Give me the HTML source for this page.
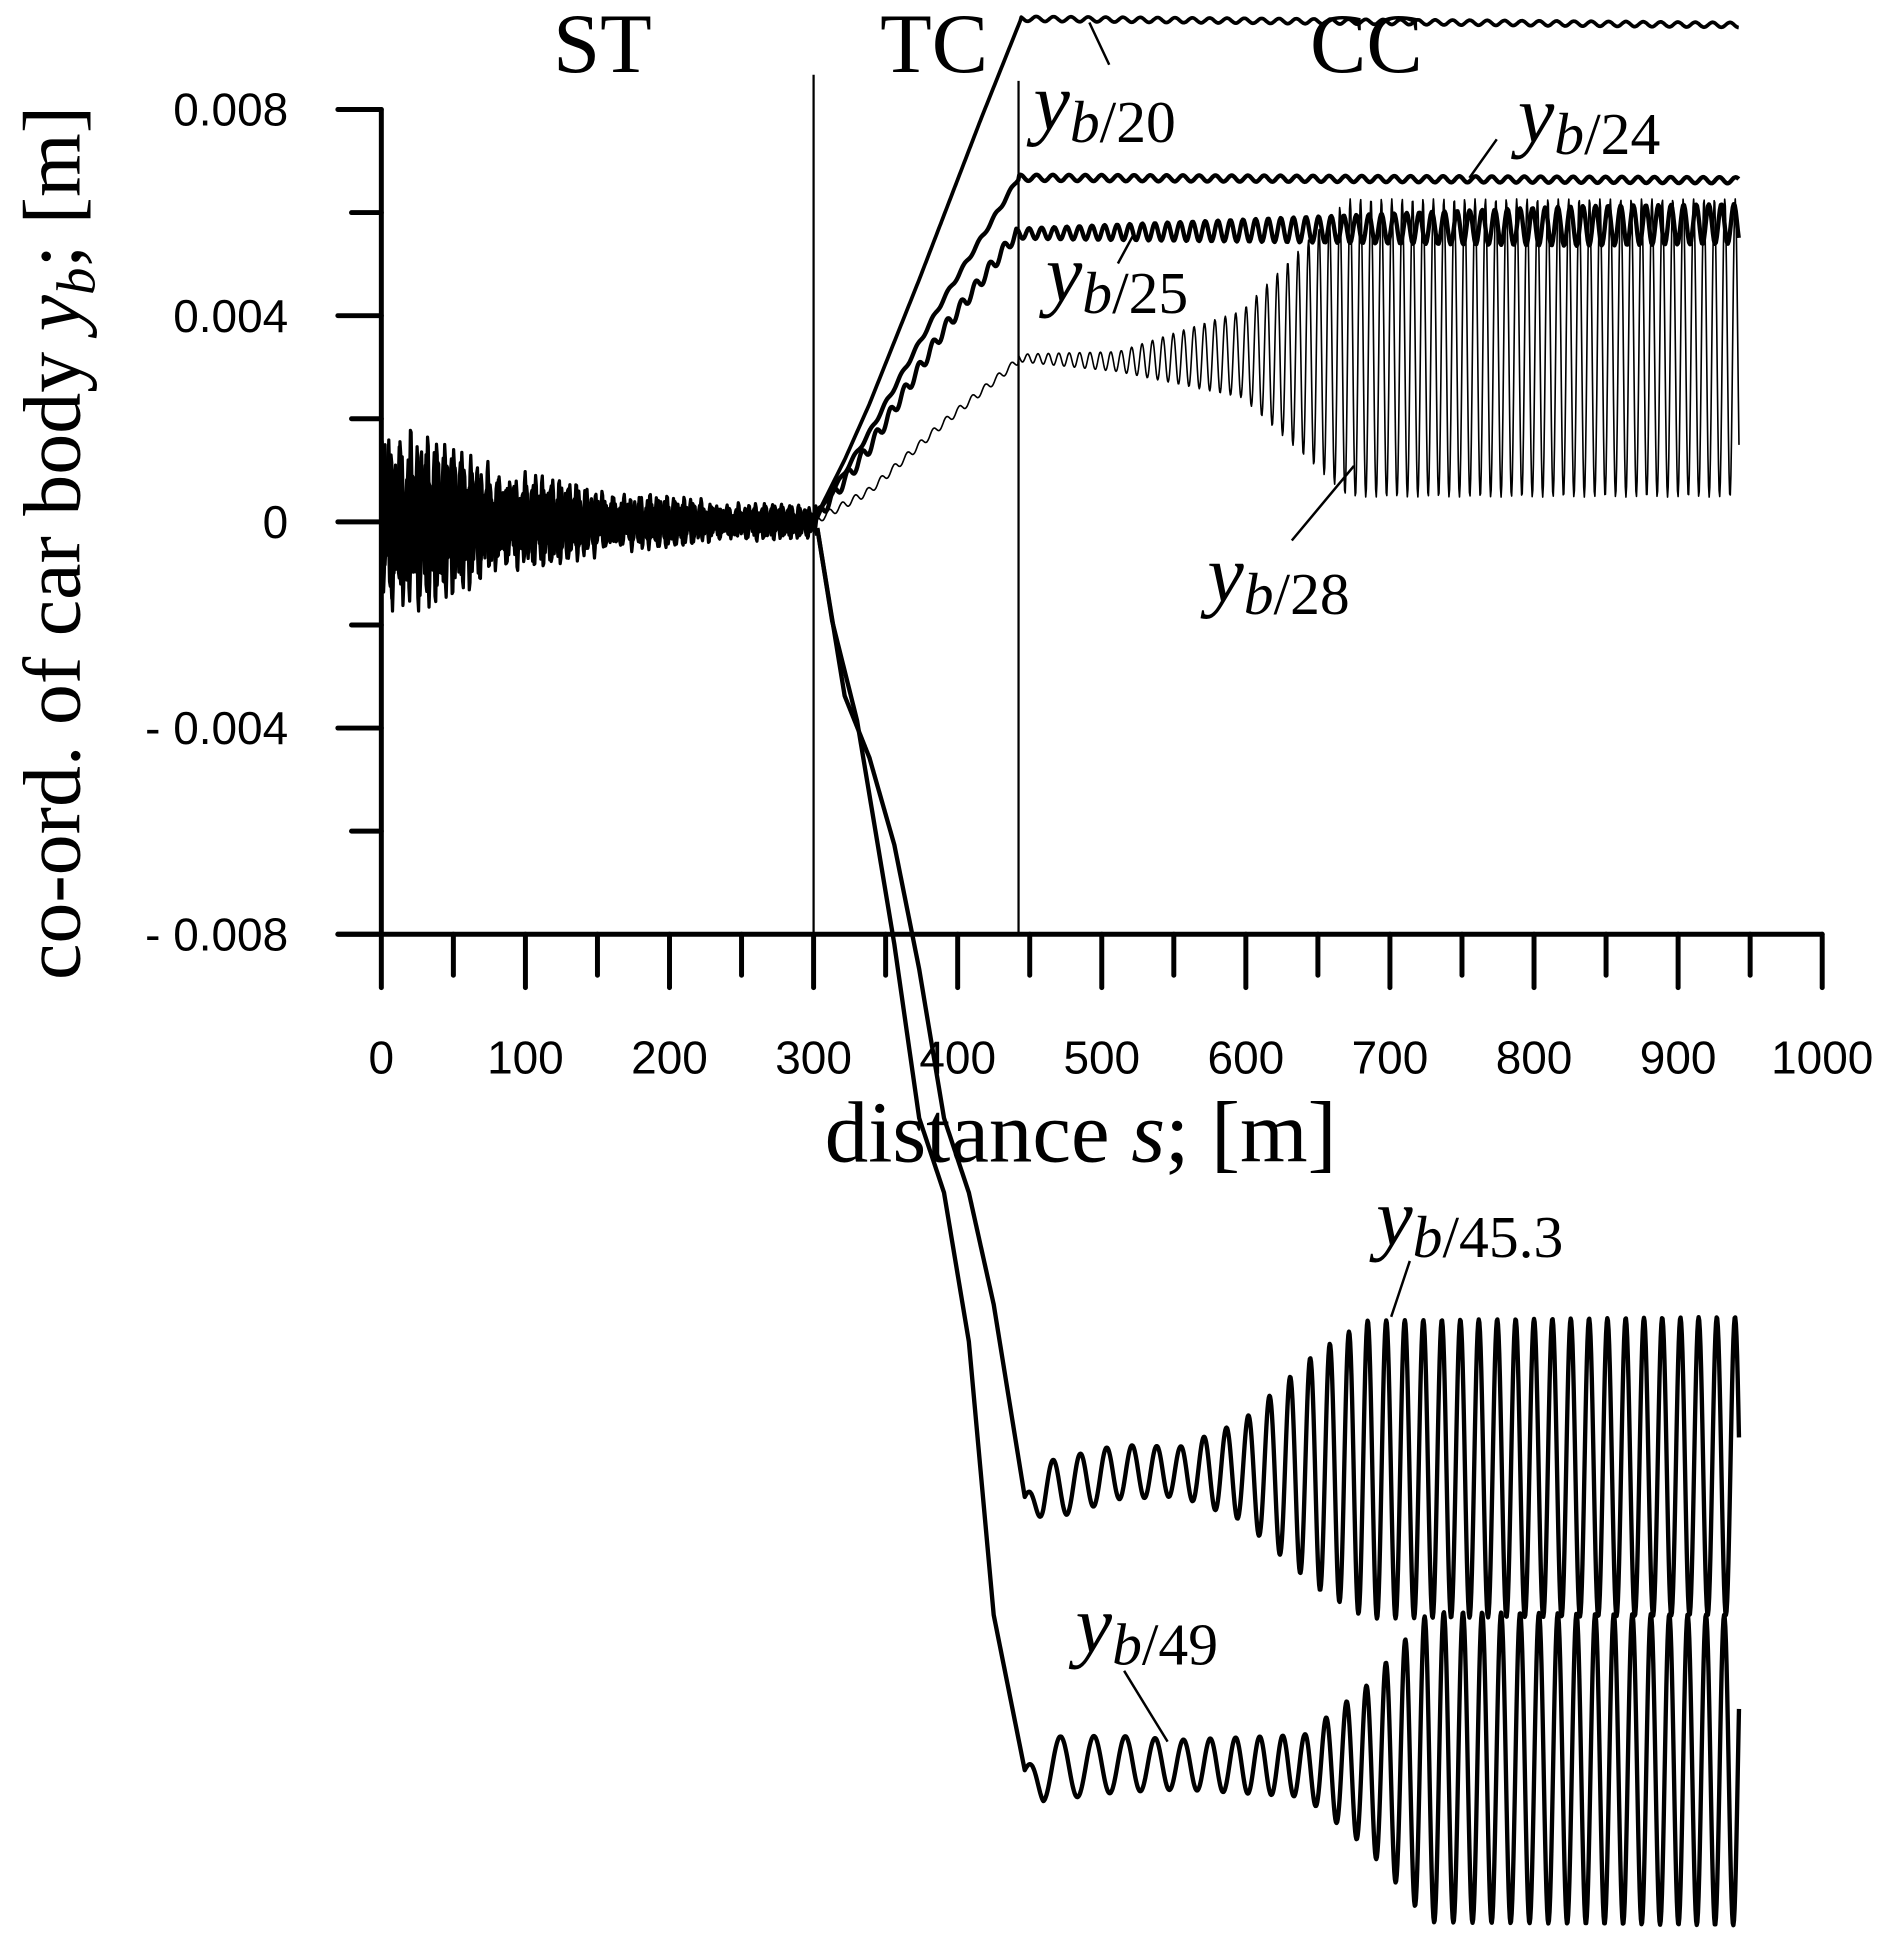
<!DOCTYPE html>
<html><head><meta charset="utf-8"><style>
html,body{margin:0;padding:0;background:#fff}
svg{display:block}
.t{font-family:"Liberation Sans",Arial,sans-serif;font-size:37px;fill:#000}
.s{font-family:"Liberation Serif","Times New Roman",serif;fill:#000}
</style></head><body>
<svg id="c" width="1893" height="1948" viewBox="0 0 1524 1568" xmlns="http://www.w3.org/2000/svg">
<g stroke="#000" stroke-width="4" stroke-linecap="round" fill="none" id="axes">
<line x1="307" y1="88" x2="307" y2="752"/>
<line x1="272" y1="752" x2="1467" y2="752"/>
</g>
<g stroke="#000" stroke-width="1.8" fill="none">
<line x1="655" y1="60" x2="655" y2="752"/>
<line x1="820" y1="65" x2="820" y2="752"/>
</g>
<g id="ticks" stroke="#000" stroke-width="4" stroke-linecap="round"></g>
<g class="t" text-anchor="end">
<text x="232" y="101">0.008</text>
<text x="232" y="267">0.004</text>
<text x="232" y="433">0</text>
<text x="232" y="599">- 0.004</text>
<text x="232" y="765">- 0.008</text>
</g>
<g class="t" text-anchor="middle" id="xl">
<text x="307" y="864">0</text><text x="423" y="864">100</text><text x="539" y="864">200</text><text x="655" y="864">300</text><text x="771" y="864">400</text><text x="887" y="864">500</text><text x="1003" y="864">600</text><text x="1119" y="864">700</text><text x="1235" y="864">800</text><text x="1351" y="864">900</text><text x="1467" y="864">1000</text>
</g>
<text class="s" font-size="70" x="870" y="935" text-anchor="middle">distance <tspan font-style="italic">s</tspan>; [m]</text>
<text class="s" font-size="66" transform="translate(64,437) rotate(-90)" text-anchor="middle">co-ord. of car body <tspan font-style="italic">y</tspan><tspan font-style="italic" font-size="44" dy="12">b</tspan><tspan dy="-12">; [m]</tspan></text>
<g class="s" font-size="68">
<text x="485" y="58" text-anchor="middle">ST</text>
<text x="752" y="58" text-anchor="middle">TC</text>
<text x="1100" y="58" text-anchor="middle">CC</text>
</g>
<g id="data" fill="none" stroke="#000" stroke-linejoin="round"></g>
<g class="s">
<text x="832" y="104" font-size="66"><tspan font-style="italic">y</tspan><tspan font-size="48" dy="10"><tspan font-style="italic">b</tspan>/20</tspan></text>
<text x="1222" y="114" font-size="66"><tspan font-style="italic">y</tspan><tspan font-size="48" dy="10"><tspan font-style="italic">b</tspan>/24</tspan></text>
<text x="842" y="242" font-size="66"><tspan font-style="italic">y</tspan><tspan font-size="48" dy="10"><tspan font-style="italic">b</tspan>/25</tspan></text>
<text x="972" y="484" font-size="66"><tspan font-style="italic">y</tspan><tspan font-size="48" dy="10"><tspan font-style="italic">b</tspan>/28</tspan></text>
<text x="1108" y="1002" font-size="66"><tspan font-style="italic">y</tspan><tspan font-size="48" dy="10"><tspan font-style="italic">b</tspan>/45.3</tspan></text>
<text x="866" y="1330" font-size="66"><tspan font-style="italic">y</tspan><tspan font-size="48" dy="10"><tspan font-style="italic">b</tspan>/49</tspan></text>
</g>
<g stroke="#000" stroke-width="2">
<line x1="877" y1="18" x2="893" y2="52"/>
<line x1="1183" y1="143" x2="1205" y2="112"/>
<line x1="900" y1="212" x2="913" y2="188"/>
<line x1="1040" y1="435" x2="1090" y2="375"/>
<line x1="1120" y1="1060" x2="1135" y2="1015"/>
<line x1="905" y1="1345" x2="940" y2="1402"/>
</g>
</svg>
<script>
var NS="http://www.w3.org/2000/svg";
var tk=document.getElementById("ticks");
function ln(g,x1,y1,x2,y2){var l=document.createElementNS(NS,"line");l.setAttribute("x1",x1);l.setAttribute("y1",y1);l.setAttribute("x2",x2);l.setAttribute("y2",y2);g.appendChild(l);}
for(var i=0;i<=20;i++){var x=307+58*i;ln(tk,x,752,x,i%2?785:795);}
for(var i=0;i<=8;i++){var y=88+83*i;ln(tk,i%2?283:272,y,307,y);}
var dg=document.getElementById("data");
function path(pts,w){var p=document.createElementNS(NS,"path");var d="M"+pts[0][0].toFixed(1)+" "+pts[0][1].toFixed(1);for(var i=1;i<pts.length;i++)d+="L"+pts[i][0].toFixed(1)+" "+pts[i][1].toFixed(1);p.setAttribute("d",d);p.setAttribute("stroke-width",w);dg.appendChild(p);}
function interp(k,x){if(x<=k[0][0])return k[0][1];for(var i=0;i<k.length-1;i++){if(x<=k[i+1][0]){var t=(x-k[i][0])/(k[i+1][0]-k[i][0]);return k[i][1]+t*(k[i+1][1]-k[i][1]);}}return k[k.length-1][1];}
for(var c=0;c<4;c++){var pts=[];for(var x=307;x<=658;x+=0.6){var A=88*Math.exp(-(x-307)/120)+9;var v=A*(0.65*Math.sin(x*1.5+c*1.7)+0.35*Math.sin(x*0.62+c*2.3))*(0.8+0.2*Math.sin(x*0.07+c));pts.push([x,420+v]);}path(pts,2.6);}
function curve(keys,wig,w){var pts=[];for(var x=655;x<=1400;x+=0.8){var y=interp(keys,x);var o=wig(x);pts.push([x,y+o]);}path(pts,w);}
curve([[655,420],[680,370],[700,325],[740,225],[790,95],[822,15],[1400,20]],function(x){return x>822?2*Math.sin(x*0.45):0;},3);
curve([[655,420],[700,348],[760,240],[820,143],[1400,145]],function(x){return x>820?2.5*Math.sin(x*0.48):1.5*Math.sin(x*0.5);},3.5);
curve([[655,420],[700,360],[760,265],[818,188],[1400,180]],function(x){if(x<818)return 5*Math.sin(x*0.55);var a=4+12*Math.min(1,(x-818)/450);return a*Math.sin(x*0.62);},3.5);
(function(){var pts=[];for(var x=655;x<=1400;x+=0.5){var y,o;if(x<820){y=interp([[655,420],[700,395],[760,340],[820,290]],x);o=3*Math.sin(x*0.6);}else{y=interp([[820,288],[900,291],[1000,285],[1080,280],[1400,280]],x);var a=interp([[820,3],[900,8],[1000,35],[1060,95],[1085,120],[1400,120]],x);o=a*Math.sin(x*0.75);}pts.push([x,y+o]);}path(pts,1.3);})();
function osc(keys,ak,pk){var pts=[],ph=0;for(var x=658;x<=1400;x+=0.5){var y=interp(keys,x);var o=0;if(x>825){var a=interp(ak,x);var p=interp(pk,x);ph+=p*0.5;o=-a*Math.cos(ph);}pts.push([x,y+o]);}path(pts,3.5);}
osc([[658,425],[680,560],[700,610],[720,680],[740,780],[760,900],[780,960],[800,1050],[825,1205],[900,1185],[1400,1180]],
 [[825,0],[840,24],[950,20],[1000,40],[1060,95],[1100,120],[1400,120]],
 [[825,0.27],[950,0.33],[1100,0.42],[1400,0.43]]);
osc([[658,425],[670,500],[690,580],[710,700],[720,760],[740,900],[760,960],[780,1080],[800,1300],[825,1425],[900,1420],[1400,1425]],
 [[825,0],[840,26],[950,20],[1050,25],[1100,65],[1150,125],[1400,125]],
 [[825,0.21],[950,0.28],[1100,0.4],[1400,0.43]]);
</script>
</body></html>
